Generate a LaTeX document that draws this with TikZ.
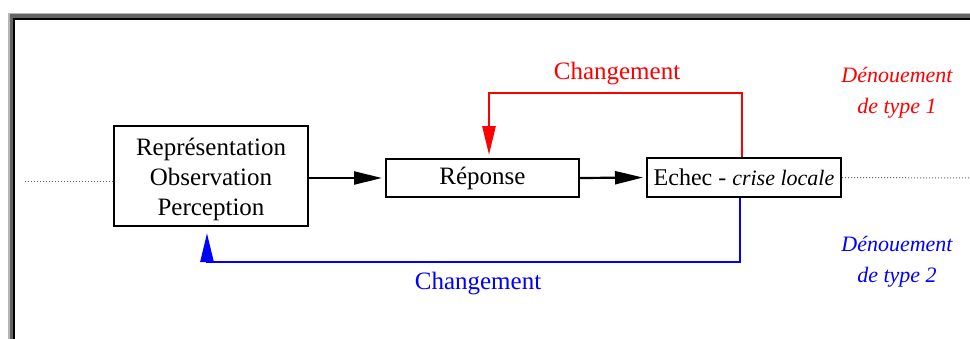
\documentclass[tikz,border=0pt]{standalone}
\usepackage{fontspec}
\setmainfont{Liberation Serif}
\usetikzlibrary{arrows.meta}
\begin{document}
\begin{tikzpicture}[x=1pt,y=-1pt,
  box/.style={draw=black,line width=2pt,inner sep=0pt,align=center,font=\fontsize{25}{30}\selectfont},
  flow/.style={line width=2.2pt,-{Triangle[length=28pt,width=13pt]},shorten >=3pt},
  back/.style={line width=2.7pt,line join=miter,-{Triangle[length=29pt,width=13pt]}},
  dotline/.style={draw=black!60,line width=1pt,dotted},
  lbl/.style={font=\fontsize{25}{30}\selectfont,align=center,inner sep=0pt},
  ilbl/.style={font=\fontsize{22}{31}\selectfont\itshape,align=center,inner sep=0pt}]
\useasboundingbox (0,0) rectangle (970,338);
\clip (0,0) rectangle (970,338);
% frame
\fill[black!29] (8,12.5) rectangle (1000,400);
\fill[black!61] (10,14) rectangle (1000,400);
\fill[black] (13,17.5) rectangle (1000,400);
\fill[white] (15,20) rectangle (1000,400);
% boxes
\node[box,minimum width=194pt,minimum height=100pt] (rep) at (211,176) {\rule{0pt}{25pt}Représentation\\Observation\\Perception};
\node[box,minimum width=193pt,minimum height=38pt] (resp) at (482.5,178) {Réponse};
\node[box,minimum width=194pt,minimum height=39pt] (echec) at (744,177.5) {\fontsize{24}{28}\selectfont Echec - \textit{\fontsize{22}{28}\selectfont crise locale}};
% dotted axis
\coordinate (dl) at (25,181);
\coordinate (dr) at (972,178);
\draw[dotline] (dl) -- (rep.west |- dl);
\draw[dotline] (echec.east) -- (dr);
% forward arrows
\draw[flow] (rep.east |- resp.west) -- (resp.west);
\draw[flow] (resp.east) -- (echec.west);
% red loop
\coordinate (rR) at (742,93);
\coordinate (rL) at (489,93);
\draw[back,red,shorten >=3pt] (rR |- echec.north) -- (rR) -- (rL) -- (rL |- resp.north);
\node[lbl,red] (chg1) at (617,74) {Changement};
% blue loop
\coordinate (bR) at (740,262);
\coordinate (bL) at (207,262);
\draw[back,blue,shorten >=6pt] (bR |- echec.south) -- (bR) -- (bL) -- (bL |- rep.south);
\node[lbl,blue] (chg2) at (478,284) {Changement};
% outcomes
\node[ilbl,red] (den1) at (897,93) {Dénouement\\de type 1};
\node[ilbl,blue] (den2) at (897,262) {Dénouement\\de type 2};
\end{tikzpicture}
\end{document}
